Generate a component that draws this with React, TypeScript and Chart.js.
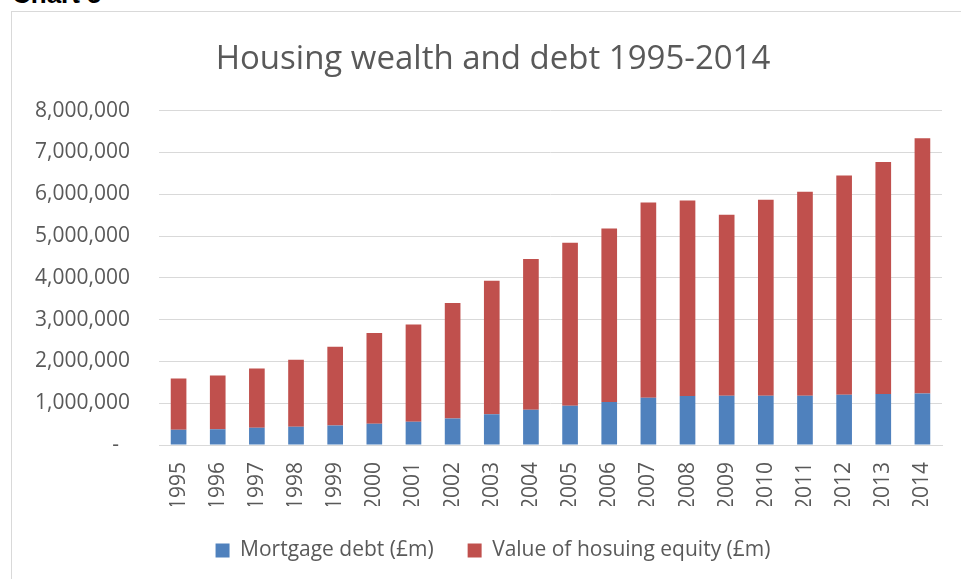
import React, { useEffect, useRef } from "react";
import { Chart, registerables } from "chart.js";

Chart.register(...registerables);

const years = ["1995", "1996", "1997", "1998", "1999", "2000", "2001", "2002", "2003", "2004", "2005", "2006", "2007", "2008", "2009", "2010", "2011", "2012", "2013", "2014"];
const mortgageDebt = [364000, 378000, 410000, 435000, 466000, 507000, 555000, 634000, 737000, 842000, 940000, 1030000, 1130000, 1170000, 1180000, 1180000, 1180000, 1200000, 1220000, 1230000];
const housingEquity = [1226000, 1282000, 1420000, 1605000, 1884000, 2173000, 2325000, 2766000, 3193000, 3608000, 3900000, 4150000, 4670000, 4680000, 4330000, 4690000, 4880000, 5250000, 5550000, 6110000];
const chartTitle = "Housing wealth and debt 1995-2014";
const seriesNames = ["Mortgage debt (£m)", "Value of hosuing equity (£m)"];

const FONT = "'Open Sans', Lato, sans-serif";
const GREY = "#595959";

export default function App() {
  const ref = useRef<HTMLCanvasElement | null>(null);

  useEffect(() => {
    document.body.style.margin = "0";
    document.body.style.overflow = "hidden";
    if (!ref.current) return;
    const chart = new Chart(ref.current, {
      type: "bar",
      data: {
        labels: years,
        datasets: [
          { label: seriesNames[0], data: mortgageDebt, backgroundColor: "#4F81BD", borderWidth: 0, categoryPercentage: 1, barPercentage: 0.4 },
          { label: seriesNames[1], data: housingEquity, backgroundColor: "#C0504D", borderWidth: 0, categoryPercentage: 1, barPercentage: 0.4 },
        ],
      },
      options: {
        animation: false,
        responsive: false,
        maintainAspectRatio: false,
        layout: { padding: { left: 22, right: 23, top: 0, bottom: 8 } },
        plugins: {
          title: {
            display: true,
            text: chartTitle,
            color: GREY,
            font: { family: FONT, size: 33, weight: "normal" },
            padding: { top: 28, bottom: 31 },
          },
          legend: {
            position: "bottom",
            labels: {
              color: GREY,
              font: { family: FONT, size: 21 },
              boxWidth: 14,
              boxHeight: 14,
              padding: 34,
            },
          },
          tooltip: { enabled: false },
        },
        scales: {
          x: {
            stacked: true,
            grid: { display: false, drawTicks: false },
            border: { display: true, color: "#d9d9d9" },
            ticks: {
              color: GREY,
              font: { family: FONT, size: 21 },
              maxRotation: 90,
              minRotation: 90,
              padding: 17,
              autoSkip: false,
            },
            afterFit: (s: any) => {
              s.paddingLeft = 0;
              s.paddingRight = 0;
              s.height = 61;
            },
          },
          y: {
            stacked: true,
            min: 0,
            max: 8000000,
            grid: { color: "#d9d9d9", drawTicks: false },
            border: { display: false },
            ticks: {
              stepSize: 1000000,
              color: GREY,
              font: { family: FONT, size: 21 },
              padding: 29,
              callback: (v: any) => (Number(v) === 0 ? "-  " : Number(v).toLocaleString("en-US")),
            },
            afterFit: (s: any) => {
              s.width = 125;
            },
          },
          yRightSpacer: {
            position: "right",
            grid: { display: false, drawTicks: false },
            border: { display: false },
            ticks: { display: false },
            afterFit: (s: any) => {
              s.width = 10;
            },
          },
        },
      },
    });
    return () => chart.destroy();
  }, []);

  return (
    <div style={{ position: "relative", width: 961, height: 579, overflow: "hidden", background: "#fff" }}>
      <div
        style={{
          position: "absolute",
          left: 12,
          top: -19,
          fontFamily: "'Liberation Sans', Arial, sans-serif",
          fontWeight: "bold",
          fontSize: 26,
          lineHeight: "26px",
          color: "#000",
        }}
      >
        Chart 5
      </div>
      <div
        style={{
          position: "absolute",
          left: 11,
          top: 11,
          width: 964,
          height: 600,
          border: "1px solid #d9d9d9",
          boxSizing: "border-box",
        }}
      />
      <canvas ref={ref} width={963} height={567} style={{ position: "absolute", left: 12, top: 12, width: 963, height: 567 }} />
    </div>
  );
}
